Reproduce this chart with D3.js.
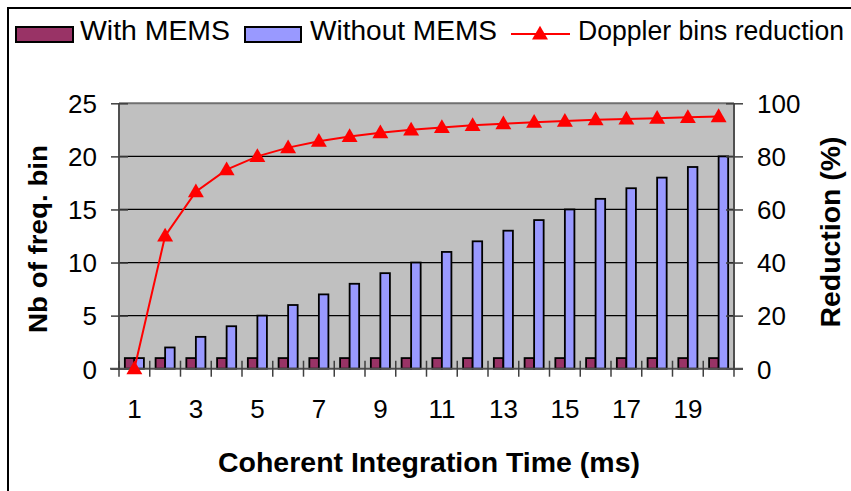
<!DOCTYPE html>
<html><head><meta charset="utf-8">
<script src="https://cdn.jsdelivr.net/npm/d3@7"></script>
<style>
body{margin:0;background:#fff;}
svg{display:block;font-family:"Liberation Sans",Arial,sans-serif;}
</style></head>
<body>
<svg id="c" width="851" height="491"></svg>
<script>
const categories = [1,2,3,4,5,6,7,8,9,10,11,12,13,14,15,16,17,18,19,20];
const withMems = [1,1,1,1,1,1,1,1,1,1,1,1,1,1,1,1,1,1,1,1];
const withoutMems = [1,2,3,4,5,6,7,8,9,10,11,12,13,14,15,16,17,18,19,20];
const reduction = [0,50,66.7,75,80,83.3,85.7,87.5,88.9,90,90.9,91.7,92.3,92.9,93.3,93.8,94.1,94.4,94.7,95];
const leftTicks = [0,5,10,15,20,25];
const rightTicks = [0,20,40,60,80,100];
const xLabels = [1,3,5,7,9,11,13,15,17,19];
const seriesNames = ["With MEMS","Without MEMS","Doppler bins reduction"];
const colors = {withM:"#993366", withoutM:"#9999FF", red:"#FF0000", bg:"#C0C0C0"};

const svg = d3.select("#c");
const L = 119, R = 734, T = 103.3, B = 368.7;

// outer frame
svg.append("rect").attr("x",8).attr("y",8).attr("width",1000).attr("height",1000)
  .attr("fill","none").attr("stroke","#000").attr("stroke-width",2);

const x = d3.scaleBand().domain(categories).range([L,R]).paddingInner(0).paddingOuter(0);
const bw = x.bandwidth();
const xSub = d3.scaleBand().domain(["w","wo"]).range([bw*0.19, bw*0.81]);
const yL = d3.scaleLinear().domain([0,25]).range([B,T]);
const yR = d3.scaleLinear().domain([0,100]).range([B,T]);

// plot background
svg.append("rect").attr("x",L).attr("y",T).attr("width",R-L).attr("height",B-T).attr("fill",colors.bg);

// gridlines
svg.append("g").selectAll("line").data(leftTicks.filter(d=>d>0)).join("line")
  .attr("x1",L).attr("x2",R).attr("y1",d=>yL(d)).attr("y2",d=>yL(d))
  .attr("stroke",d=>d===25?"#707070":"#000").attr("stroke-width",d=>d===25?2:1.2);

// bars
const data = categories.map((c,i)=>({c, w:withMems[i], wo:withoutMems[i], r:reduction[i]}));
const g = svg.append("g");
g.selectAll("rect.w").data(data).join("rect").attr("class","w")
  .attr("x",d=>x(d.c)+xSub("w")).attr("width",xSub.bandwidth())
  .attr("y",d=>yL(d.w)).attr("height",d=>B-yL(d.w))
  .attr("fill",colors.withM).attr("stroke","#000").attr("stroke-width",1.8);
g.selectAll("rect.wo").data(data).join("rect").attr("class","wo")
  .attr("x",d=>x(d.c)+xSub("wo")).attr("width",xSub.bandwidth())
  .attr("y",d=>yL(d.wo)).attr("height",d=>B-yL(d.wo))
  .attr("fill",colors.withoutM).attr("stroke","#000").attr("stroke-width",1.8);

// axes lines
svg.append("line").attr("x1",L).attr("x2",L).attr("y1",T).attr("y2",B).attr("stroke","#505050").attr("stroke-width",2);
svg.append("line").attr("x1",R).attr("x2",R).attr("y1",T).attr("y2",B).attr("stroke","#505050").attr("stroke-width",2);

// left axis
const axL = svg.append("g").attr("transform",`translate(${L},0)`)
  .call(d3.axisLeft(yL).tickValues(leftTicks).tickSize(8).tickPadding(14));
axL.select(".domain").remove();
axL.selectAll(".tick line").attr("x1",9).attr("stroke","#404040").attr("stroke-width",1.5);
axL.selectAll(".tick text").attr("font-size",26).attr("fill","#000").attr("font-family","Liberation Sans, Arial, sans-serif").attr("dy","0.36em");

// right axis
const axR = svg.append("g").attr("transform",`translate(${R},0)`)
  .call(d3.axisRight(yR).tickValues(rightTicks).tickSize(9).tickPadding(14));
axR.select(".domain").remove();
axR.selectAll(".tick line").attr("x1",-8).attr("stroke","#404040").attr("stroke-width",1.5);
axR.selectAll(".tick text").attr("font-size",26).attr("fill","#000").attr("font-family","Liberation Sans, Arial, sans-serif").attr("dy","0.36em");

// bottom axis
svg.append("line").attr("x1",110).attr("x2",743).attr("y1",B).attr("y2",B).attr("stroke","#505050").attr("stroke-width",2);
const bounds = categories.map(c=>x(c)).concat([R]);
svg.append("g").selectAll("line").data(bounds).join("line")
  .attr("x1",d=>d).attr("x2",d=>d).attr("y1",B-8).attr("y2",B+8)
  .attr("stroke","#404040").attr("stroke-width",1.5);
const axB = svg.append("g").attr("transform",`translate(0,${B})`)
  .call(d3.axisBottom(x).tickSize(0).tickPadding(0).tickFormat(d=>xLabels.includes(d)?d:""));
axB.select(".domain").remove();
axB.selectAll(".tick text").attr("font-size",26).attr("fill","#000").attr("font-family","Liberation Sans, Arial, sans-serif")
  .attr("y",49).attr("dy",0);

// reduction line
const line = d3.line().x(d=>x(d.c)+bw/2).y(d=>yR(d.r));
svg.append("path").datum(data).attr("d",line).attr("fill","none").attr("stroke",colors.red).attr("stroke-width",2);
const tri = d3.symbol().type(d3.symbolTriangle).size(110);
svg.append("g").selectAll("path").data(data).join("path")
  .attr("transform",d=>`translate(${x(d.c)+bw/2},${yR(d.r)+1})`).attr("d",tri).attr("fill",colors.red);

// titles
svg.append("text").attr("x",429).attr("y",472).attr("text-anchor","middle")
  .attr("font-size",27).attr("font-weight","bold").attr("textLength",422).attr("lengthAdjust","spacingAndGlyphs")
  .text("Coherent Integration Time (ms)");
svg.append("text").attr("transform","translate(47,239) rotate(-90)").attr("text-anchor","middle")
  .attr("font-size",25).attr("font-weight","bold").attr("textLength",188).attr("lengthAdjust","spacingAndGlyphs")
  .text("Nb of freq. bin");
svg.append("text").attr("transform","translate(840,232) rotate(-90)").attr("text-anchor","middle")
  .attr("font-size",28).attr("font-weight","bold").attr("textLength",191).attr("lengthAdjust","spacingAndGlyphs")
  .text("Reduction (%)");

// legend
const lg = svg.append("g");
lg.append("rect").attr("x",16).attr("y",27).attr("width",57).attr("height",15).attr("fill",colors.withM).attr("stroke","#000").attr("stroke-width",2);
lg.append("text").attr("x",80).attr("y",40).attr("font-size",27).attr("textLength",150).attr("lengthAdjust","spacingAndGlyphs").text(seriesNames[0]);
lg.append("rect").attr("x",245).attr("y",27).attr("width",56).attr("height",15).attr("fill",colors.withoutM).attr("stroke","#000").attr("stroke-width",2);
lg.append("text").attr("x",310).attr("y",40).attr("font-size",27).attr("textLength",187).attr("lengthAdjust","spacingAndGlyphs").text(seriesNames[1]);
lg.append("line").attr("x1",511).attr("x2",570).attr("y1",34).attr("y2",34).attr("stroke",colors.red).attr("stroke-width",2);
lg.append("path").attr("transform","translate(540,35)").attr("d",tri).attr("fill",colors.red);
lg.append("text").attr("x",578).attr("y",40).attr("font-size",27).attr("textLength",266).attr("lengthAdjust","spacingAndGlyphs").text(seriesNames[2]);
</script>
</body></html>
